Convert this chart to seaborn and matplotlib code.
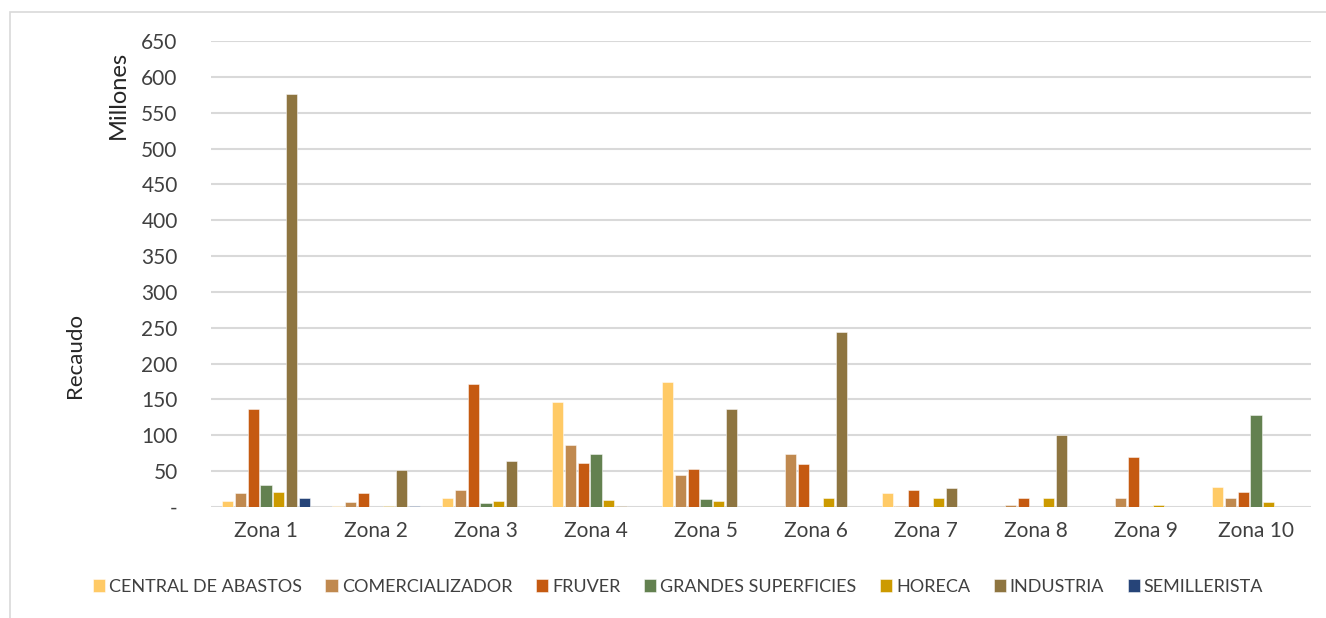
import pandas as pd
import seaborn as sns
import matplotlib.pyplot as plt
from matplotlib.patches import Rectangle

# Zones and categories
zonas = ["Zona 1", "Zona 2", "Zona 3", "Zona 4", "Zona 5",
         "Zona 6", "Zona 7", "Zona 8", "Zona 9", "Zona 10"]
categorias = ["CENTRAL DE ABASTOS", "COMERCIALIZADOR", "FRUVER",
              "GRANDES SUPERFICIES", "HORECA", "INDUSTRIA", "SEMILLERISTA"]

# Recaudo (millones) per category, one value per zone
central_abastos = [9, 1, 12, 146, 174, 0, 19, 0, 0, 28]
comercializador = [20, 7, 24, 86, 45, 74, 1, 2.5, 13, 12]
fruver = [136, 20, 171, 61, 53, 60, 24, 13, 70, 21]
grandes_superficies = [31, 0, 6, 74, 11, 0, 0, 0, 0, 129]
horeca = [21, 1, 9, 10, 9, 12, 12, 12, 3, 7]
industria = [576, 51, 64, 1.5, 137, 244, 27, 101, 0, 0]
semillerista = [13, 1, 0, 0, 0, 0, 0, 0, 0, 0]

colores = ["#FFCA66", "#C0894F", "#C55A11", "#638150",
           "#CC9A00", "#8E7540", "#264478"]

series = [central_abastos, comercializador, fruver, grandes_superficies,
          horeca, industria, semillerista]
rows = []
for cat, vals in zip(categorias, series):
    for z, v in zip(zonas, vals):
        rows.append({"Zona": z, "Categoria": cat, "Recaudo": v})
df = pd.DataFrame(rows)

sns.set_style("white")
plt.rcParams['font.family'] = ['Lato', 'DejaVu Sans']

fig = plt.figure(figsize=(13.26, 6.18), dpi=100)
ax = fig.add_axes([211 / 1326, 1 - 507 / 618, 1100 / 1326, 466 / 618])

sns.barplot(data=df, x="Zona", y="Recaudo", hue="Categoria",
            order=zonas, hue_order=categorias, palette=colores,
            width=0.82, gap=0.14, edgecolor="#FFFFFFB0", linewidth=0.5,
            saturation=1, ax=ax, zorder=3)

ax.set_ylim(0, 650)
ax.set_yticks(range(0, 651, 50))
ax.set_yticklabels(["-"] + [str(v) for v in range(50, 651, 50)])
ax.yaxis.grid(True, color="#D9D9D9", linewidth=1.5, zorder=0)
ax.set_axisbelow(True)
for s in ax.spines.values():
    s.set_visible(False)
ax.tick_params(axis="both", length=0, labelsize=15, labelcolor="#404040")
ax.tick_params(axis="y", pad=24)
ax.tick_params(axis="x", pad=10)
ax.set_xlabel("")
ax.set_ylabel("")

fig.text(75 / 1326, 1 - 355 / 618, "Recaudo", rotation=90, fontsize=16,
         color="#262626", ha="center", va="center")
fig.text(118 / 1326, 1 - 95 / 618, "Millones", rotation=90, fontsize=17,
         color="#262626", ha="center", va="center")

handles, labels = ax.get_legend_handles_labels()
ax.get_legend().remove()
fig.legend(handles, labels, loc="center", bbox_to_anchor=(678 / 1326, 1 - 587 / 618),
           ncol=7, frameon=False, fontsize=13, handlelength=0.7, handleheight=0.7,
           handletextpad=0.2, columnspacing=1.3, labelcolor="#404040")

fig.patches.append(Rectangle((10 / 1326, -0.05), 1.1, 1 - 12 / 618 + 0.05,
                             transform=fig.transFigure, fill=False,
                             edgecolor="#D9D9D9", linewidth=1.2))

fig.savefig("out.png", dpi=100)
